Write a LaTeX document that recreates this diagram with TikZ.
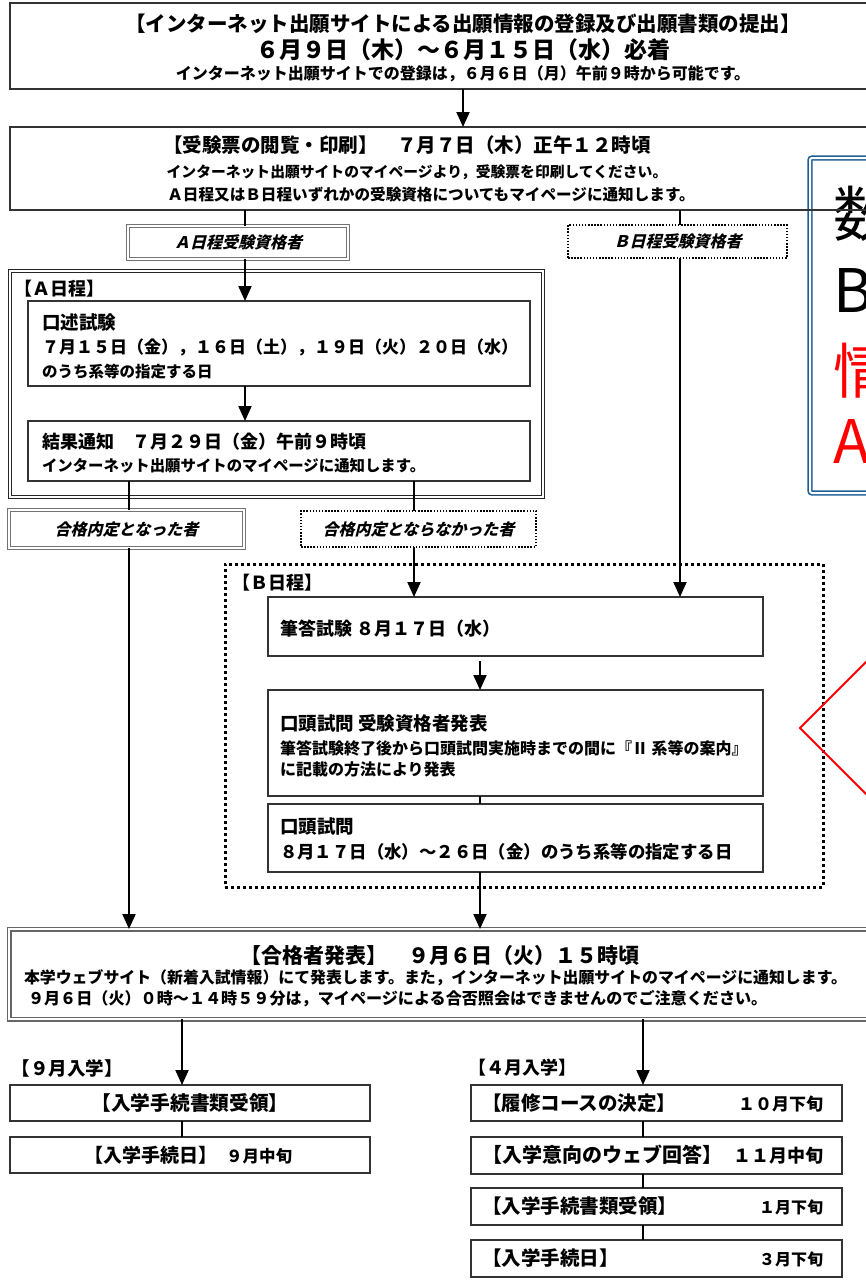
\documentclass[tikz,border=0pt]{standalone}
\usepackage{fontspec}
\setmainfont{Noto Sans CJK JP}
\newfontfamily\jpslant{Noto Sans CJK JP}[FakeSlant=0.25]
\usetikzlibrary{arrows.meta}
\definecolor{bluebox}{RGB}{31,95,153}
\newcommand{\myfs}[1]{\fontsize{#1}{#1}\selectfont}
\newcommand{\bx}[6]{%
  \pgfmathsetmacro{\mybw}{#5-#3}\pgfmathsetmacro{\mybh}{#6-#4}%
  \pgfmathsetmacro{\mycx}{(#3+#5)/2}\pgfmathsetmacro{\mycy}{-(#4+#6)/2}%
  \node[#2, minimum width=\mybw pt, minimum height=\mybh pt] (#1) at (\mycx,\mycy) {};}
\tikzset{
  base/.style={inner sep=0pt, outer sep=0pt},
  box/.style={base, draw=black!80, line width=1.2pt},
  dbox/.style={base, draw=black!55, double, double distance=1.6pt, line width=1pt},
  frameA/.style={base, draw=black!85, double, double distance=2pt, line width=0.8pt},
  passbox/.style={base, draw=black!60, double, double distance=2.2pt, line width=1.4pt},
  dotbox/.style={base, draw=black, line width=1.5pt, dash pattern=on 1.5pt off 1.6pt},
  dotframe/.style={base, draw=black, line width=3pt, dash pattern=on 3pt off 3pt},
  notebox/.style={base, draw=bluebox, double, double distance=2pt, line width=1.6pt, rounded corners=2pt},
  conn/.style={line width=2pt, draw=black},
  arr/.style={conn, -{Triangle[width=13pt,length=15pt]}},
  jt/.style={base, font=\bfseries\myfs{#1}},
  jit/.style={base, font=\jpslant\bfseries\myfs{#1}},
  big/.style={base, anchor=west, font=\myfs{60}},
}
\begin{document}
\begin{tikzpicture}[x=1pt,y=1pt]
\useasboundingbox[fill=white] (0,0) rectangle (866,-1282);

% note box (behind)
\bx{note}{notebox}{810}{158}{940}{493}
\node[big] (n1) at (833,-214) {数};
\node[big] (n2) at (833,-291) {B};
\node[big, text=red] (n3) at (833,-371) {情};
\node[big, text=red] (n4) at (833,-442) {A};

% x positions of connectors
\coordinate (xT) at (463,0);
\coordinate (xA) at (245,0);
\coordinate (xB) at (680,0);
\coordinate (xL) at (129,0);
\coordinate (xN) at (414,0);
\coordinate (xM) at (480,0);
\coordinate (x9) at (182,0);
\coordinate (x4) at (643,0);

% box 1
\bx{b1}{box}{10}{3}{916}{89}
\node[jt=20.5] (t1a) at (463,-24) {【インターネット出願サイトによる出願情報の登録及び出願書類の提出】};
\node[jt=23] (t1b) at (463,-50) {６月９日（木）～６月１５日（水）必着};
\node[jt=16] (t1c) at (463,-74) {インターネット出願サイトでの登録は，６月６日（月）午前９時から可能です。};

% box 2
\bx{b2}{box}{10}{127}{916}{210}
\node[jt=19.5] (t2a) at (407,-145) {【受験票の閲覧・印刷】　７月７日（木）正午１２時頃};
\node[jt=14.8] (t2b) at (417,-172) {インターネット出願サイトのマイページより，受験票を印刷してください。};
\node[jt=15.6] (t2c) at (431,-195) {Ａ日程又はＢ日程いずれかの受験資格についてもマイページに通知します。};

% qualification boxes
\bx{aq}{dbox}{128}{226}{348}{259}
\node[jit=16] (aqt) at (aq) {Ａ日程受験資格者};
\bx{bq}{dotbox}{568}{225}{787}{258}
\node[jit=16] (bqt) at (bq) {Ｂ日程受験資格者};

% A schedule
\bx{af}{frameA}{10}{271}{543}{497}
\node[jt=18, anchor=west] (afl) at (14,-289) {【Ａ日程】};
\bx{k1}{box}{28}{301}{530}{386}
\node[jt=18.5, anchor=west] (k1a) at (42,-322) {口述試験};
\node[jt=17, anchor=west] (k1b) at (42,-347) {７月１５日（金），１６日（土），１９日（火）２０日（水）};
\node[jt=15.5, anchor=west] (k1c) at (42,-372) {のうち系等の指定する日};
\bx{k2}{box}{28}{421}{530}{481}
\node[jt=18, anchor=west] (k2a) at (42,-442) {結果通知　７月２９日（金）午前９時頃};
\node[jt=15.4, anchor=west] (k2b) at (42,-466) {インターネット出願サイトのマイページに通知します。};

% result boxes
\bx{ok}{dbox}{9}{510}{244}{548}
\node[jit=16] (okt) at (ok) {合格内定となった者};
\bx{ng}{dotbox}{301}{511}{536}{547}
\node[jit=16] (ngt) at (ng) {合格内定とならなかった者};

% B schedule
\bx{bf}{dotframe}{225}{564}{823}{887}
\node[jt=18, anchor=west] (bfl) at (232,-583) {【Ｂ日程】};
\bx{h1}{box}{268}{597}{763}{656}
\node[jt=18, anchor=west] (h1a) at (280,-629) {筆答試験 ８月１７日（水）};
\bx{h2}{box}{268}{690}{763}{796}
\node[jt=18.5, anchor=west] (h2a) at (280,-723) {口頭試問 受験資格者発表};
\node[jt=16, anchor=west] (h2b) at (280,-748) {筆答試験終了後から口頭試問実施時までの間に『Ⅱ 系等の案内』};
\node[jt=16, anchor=west] (h2c) at (280,-769) {に記載の方法により発表};
\bx{h3}{box}{268}{804}{763}{872}
\node[jt=18.5, anchor=west] (h3a) at (280,-826) {口頭試問};
\node[jt=17.4, anchor=west] (h3b) at (280,-852) {８月１７日（水）～２６日（金）のうち系等の指定する日};

% pass announcement
\bx{ps}{passbox}{9}{929}{920}{1019}
\node[jt=21] (psa) at (440,-956) {【合格者発表】　９月６日（火）１５時頃};
\node[jt=15.9, anchor=west] (psb) at (24,-978) {本学ウェブサイト（新着入試情報）にて発表します。また，インターネット出願サイトのマイページに通知します。};
\node[jt=16.1, anchor=west] (psc) at (28,-999) {９月６日（火）０時～１４時５９分は，マイページによる合否照会はできませんのでご注意ください。};

% September admission
\node[jt=18.5, anchor=west] (sep) at (12,-1068) {【９月入学】};
\bx{s1}{box}{10}{1085}{370}{1121}
\node[jt=19.7] (s1t) at (s1) {【入学手続書類受領】};
\bx{s2}{box}{10}{1137}{370}{1173}
\node[jt=19, anchor=west] (s2a) at (84,-1155) {【入学手続日】};
\node[jt=16.5, anchor=west] (s2b) at (226,-1156) {９月中旬};

% April admission
\node[jt=18, anchor=west] (apr) at (468,-1068) {【４月入学】};
\bx{a1}{box}{471}{1085}{842}{1121}
\node[jt=19.5, anchor=west] (a1a) at (482,-1103) {【履修コースの決定】};
\node[jt=17, anchor=east] (a1b) at (823,-1104) {１０月下旬};
\bx{a2}{box}{471}{1137}{842}{1174}
\node[jt=20, anchor=west] (a2a) at (482,-1155) {【入学意向のウェブ回答】};
\node[jt=18, anchor=east] (a2b) at (823,-1156) {１１月中旬};
\bx{a3}{box}{471}{1188}{842}{1225}
\node[jt=19.5, anchor=west] (a3a) at (482,-1206) {【入学手続書類受領】};
\node[jt=16, anchor=east] (a3b) at (823,-1207) {１月下旬};
\bx{a4}{box}{471}{1240}{842}{1277}
\node[jt=19.5, anchor=west] (a4a) at (482,-1258) {【入学手続日】};
\node[jt=16, anchor=east] (a4b) at (823,-1259) {３月下旬};

% connectors
\draw[arr] (b1.south -| xT) -- (b2.north -| xT);
\draw[conn] (b2.south -| xA) -- (aq.north -| xA);
\draw[arr] (aq.south -| xA) -- (k1.north -| xA);
\draw[arr] (k1.south -| xA) -- (k2.north -| xA);
\draw[conn] (b2.south -| xB) -- (bq.north -| xB);
\draw[arr] (bq.south -| xB) -- (h1.north -| xB);
\draw[conn] (k2.south -| xL) -- (ok.north -| xL);
\draw[conn] (k2.south -| xN) -- (ng.north -| xN);
\draw[arr] (ok.south -| xL) -- (ps.north -| xL);
\draw[arr] (ng.south -| xN) -- (h1.north -| xN);
\draw[arr, shorten <=5pt] (h1.south -| xM) -- (h2.north -| xM);
\draw[conn] (h2.south -| xM) -- (h3.north -| xM);
\draw[arr] (h3.south -| xM) -- (ps.north -| xM);
\draw[arr] (ps.south -| x9) -- (s1.north -| x9);
\draw[conn] (s1.south -| x9) -- (s2.north -| x9);
\draw[arr] (ps.south -| x4) -- (a1.north -| x4);
\draw[conn] (a1.south -| x4) -- (a2.north -| x4);
\draw[conn] (a2.south -| x4) -- (a3.north -| x4);
\draw[conn] (a3.south -| x4) -- (a4.north -| x4);

% red callout
\draw[red, line width=2pt] (905,-623) -- (800,-728) -- (905,-833);
\end{tikzpicture}
\end{document}
